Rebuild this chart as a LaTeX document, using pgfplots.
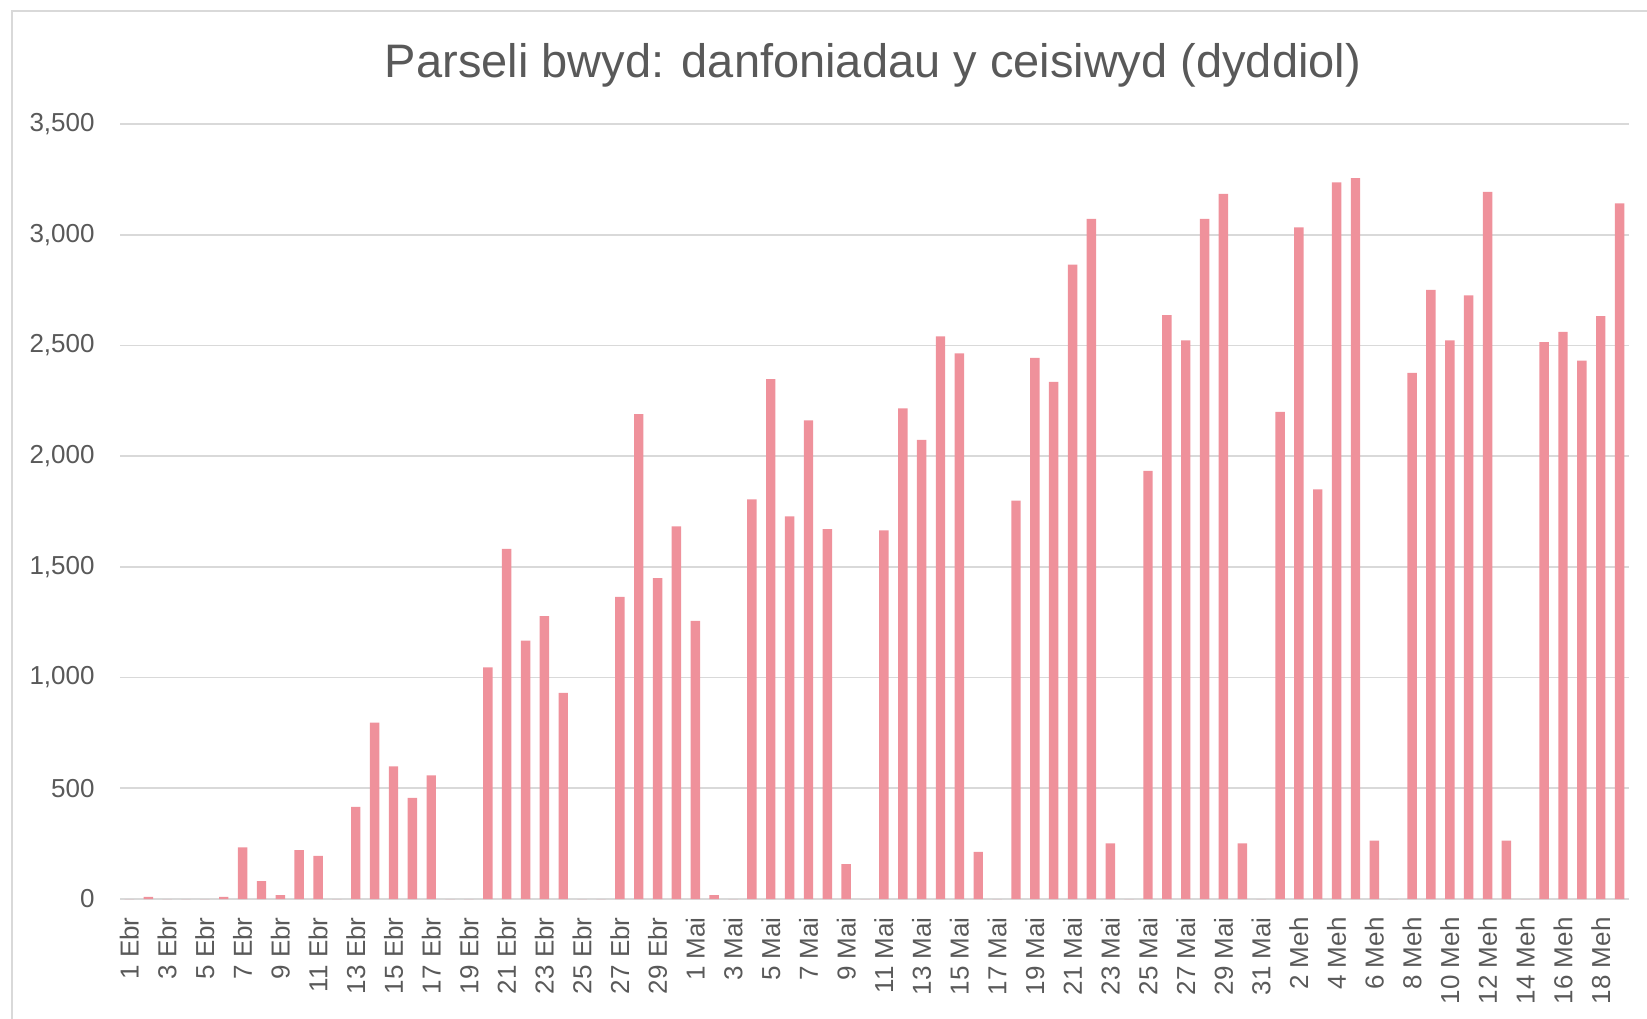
\documentclass[border=0pt]{standalone}
\usepackage{fontspec}
\setmainfont{Liberation Sans}
\usepackage{pgfplots}
\usepackage{pgfplotstable}
\pgfplotsset{compat=1.18}
\definecolor{barc}{RGB}{239,145,155}
\definecolor{gridc}{RGB}{217,217,217}
\definecolor{txt}{RGB}{89,89,89}
\pgfplotstableread{
idx val
0 0
1 10
2 0
3 0
4 0
5 10
6 233
7 81
8 18
9 221
10 195
11 0
12 416
13 797
14 599
15 457
16 558
17 0
18 0
19 1046
20 1581
21 1167
22 1277
23 931
24 0
25 0
26 1365
27 2190
28 1449
29 1683
30 1256
31 18
32 0
33 1805
34 2348
35 1728
36 2162
37 1670
38 157
39 0
40 1665
41 2216
42 2074
43 2541
44 2464
45 213
46 0
47 1799
48 2444
49 2335
50 2865
51 3071
52 251
53 0
54 1934
55 2637
56 2523
57 3071
58 3185
59 251
60 0
61 2200
62 3033
63 1850
64 3236
65 3256
66 264
67 0
68 2376
69 2751
70 2523
71 2726
72 3193
73 264
74 0
75 2515
76 2561
77 2431
78 2632
79 3142
}\parcels
\begin{document}
\begin{tikzpicture}
\path[use as bounding box] (0,0) rectangle (823.5pt,509pt);
\draw[gridc, line width=1pt] (6pt,-2pt) -- (6pt,503.5pt) -- (826pt,503.5pt);
\begin{axis}[
  at={(60pt,59.5pt)}, anchor=south west,
  scale only axis, width=754.5pt, height=387.5pt,
  ybar, bar width=0.5, bar shift=0pt,
  xmin=-0.5, xmax=79.5, ymin=0, ymax=3500,
  ytick={0,500,...,3500},
  xtick={0,2,...,78},
  xticklabels={1 Ebr,3 Ebr,5 Ebr,7 Ebr,9 Ebr,11 Ebr,13 Ebr,15 Ebr,17 Ebr,19 Ebr,21 Ebr,23 Ebr,25 Ebr,27 Ebr,29 Ebr,1 Mai,3 Mai,5 Mai,7 Mai,9 Mai,11 Mai,13 Mai,15 Mai,17 Mai,19 Mai,21 Mai,23 Mai,25 Mai,27 Mai,29 Mai,31 Mai,2 Meh,4 Meh,6 Meh,8 Meh,10 Meh,12 Meh,14 Meh,16 Meh,18 Meh},
  axis line style={draw=none},
  tick style={draw=none},
  major tick length=0pt,
  ymajorgrids,
  grid style={gridc, line width=0.9pt},
  xticklabel shift=9pt,
  yticklabel shift=12.5pt,
  x tick label style={rotate=90, anchor=east, inner sep=0pt, text=txt, font=\fontsize{13pt}{15pt}\selectfont},
  y tick label style={anchor=east, inner sep=0pt, text=txt, font=\fontsize{13pt}{15pt}\selectfont},
  /pgf/number format/.cd, assume math mode=true, 1000 sep={,},
]
\addplot[fill=barc, draw=none] table[x=idx, y=val] {\parcels};
\end{axis}
\node[anchor=base, text=txt, font=\fontsize{23.5pt}{28pt}\selectfont] at (436.5pt,470pt) {Parseli bwyd: danfoniadau y ceisiwyd (dyddiol)};
\end{tikzpicture}
\end{document}
